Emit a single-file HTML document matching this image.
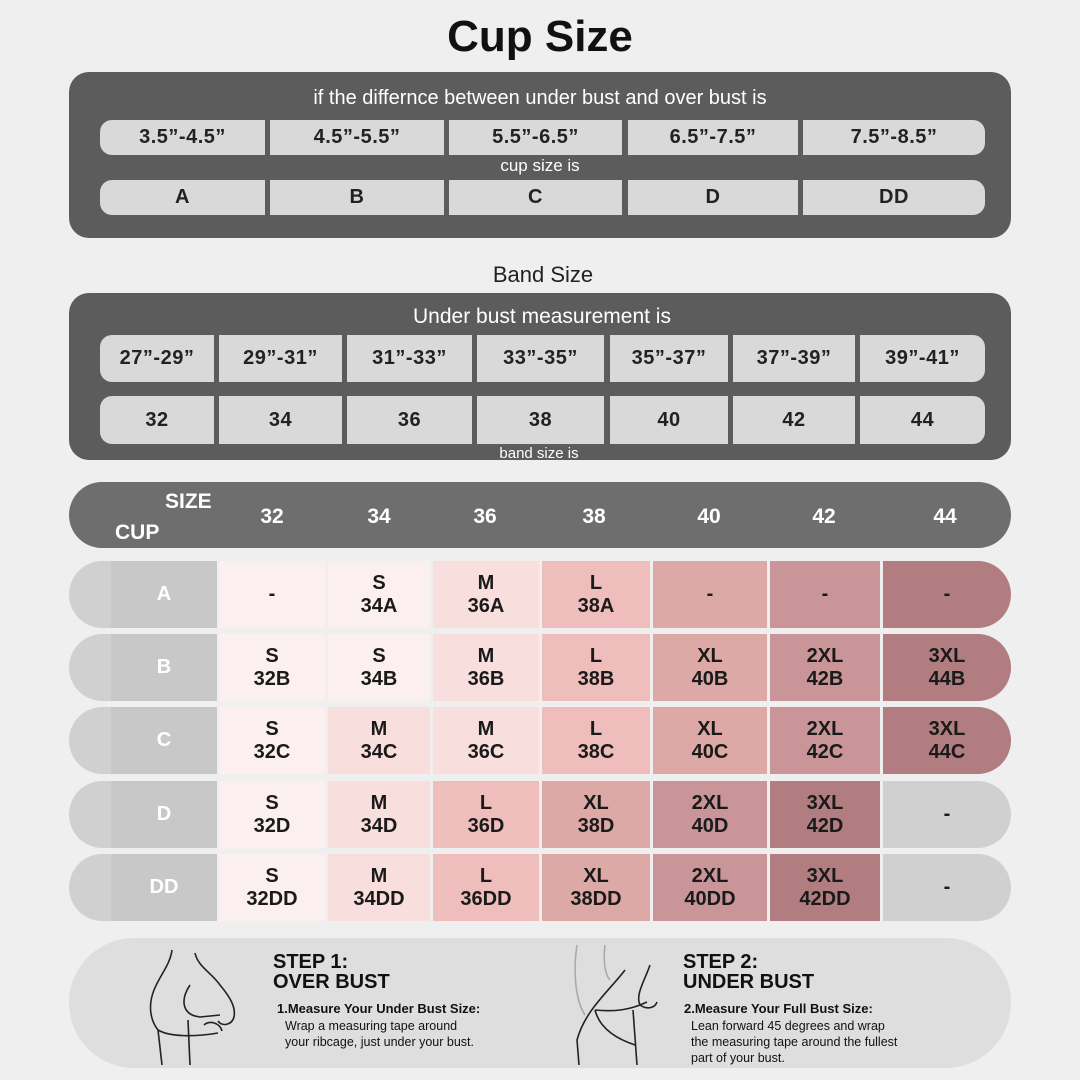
<!DOCTYPE html>
<html><head><meta charset="utf-8"><style>
*{margin:0;padding:0;box-sizing:border-box}
body{width:1080px;height:1080px;background:#efefef;position:relative;overflow:hidden;font-family:"Liberation Sans",Arial,sans-serif}
.a{position:absolute}
.t{position:absolute;text-align:center;white-space:nowrap}
.box{position:absolute;background:#d9d9d9;display:flex;align-items:center;justify-content:center;font-weight:bold;font-size:20px;color:#222;letter-spacing:0.5px}
.cell{position:absolute;display:flex;align-items:center;justify-content:center;text-align:center;font-weight:bold;font-size:20px;line-height:23px;color:#1a1a1a}
.lab{position:absolute;background:#c8c8c8;color:#fff;display:flex;align-items:center;justify-content:center;font-weight:bold;font-size:20px}
</style></head><body>
<div class="t" style="left:0;width:1080px;top:12px;font-size:44px;font-weight:bold;color:#111">Cup Size</div>

<div class="a" style="left:69px;top:72px;width:942px;height:166px;background:#5c5c5c;border-radius:20px"></div>
<div class="t" style="left:69px;width:942px;top:87px;font-size:20px;color:#fff">if the differnce between under bust and over bust is</div>
<div class="box" style="left:100px;top:120px;width:165px;height:35px;border-radius:12px 0 0 12px">3.5”-4.5”</div>
<div class="box" style="left:270px;top:120px;width:174px;height:35px">4.5”-5.5”</div>
<div class="box" style="left:449px;top:120px;width:173px;height:35px">5.5”-6.5”</div>
<div class="box" style="left:628px;top:120px;width:170px;height:35px">6.5”-7.5”</div>
<div class="box" style="left:803px;top:120px;width:182px;height:35px;border-radius:0 12px 12px 0">7.5”-8.5”</div>
<div class="t" style="left:69px;width:942px;top:156px;font-size:17px;color:#fff">cup size is</div>
<div class="box" style="left:100px;top:180px;width:165px;height:35px;border-radius:12px 0 0 12px">A</div>
<div class="box" style="left:270px;top:180px;width:174px;height:35px">B</div>
<div class="box" style="left:449px;top:180px;width:173px;height:35px">C</div>
<div class="box" style="left:628px;top:180px;width:170px;height:35px">D</div>
<div class="box" style="left:803px;top:180px;width:182px;height:35px;border-radius:0 12px 12px 0">DD</div>

<div class="t" style="left:0;width:1086px;top:262px;font-size:22px;color:#222">Band Size</div>
<div class="a" style="left:69px;top:293px;width:942px;height:167px;background:#5c5c5c;border-radius:20px"></div>
<div class="t" style="left:69px;width:946px;top:305px;font-size:21px;color:#fff">Under bust measurement is</div>
<div class="box" style="left:100px;top:335px;width:114px;height:47px;border-radius:12px 0 0 12px">27”-29”</div>
<div class="box" style="left:219px;top:335px;width:123px;height:47px">29”-31”</div>
<div class="box" style="left:347px;top:335px;width:125px;height:47px">31”-33”</div>
<div class="box" style="left:477px;top:335px;width:127px;height:47px">33”-35”</div>
<div class="box" style="left:610px;top:335px;width:118px;height:47px">35”-37”</div>
<div class="box" style="left:733px;top:335px;width:122px;height:47px">37”-39”</div>
<div class="box" style="left:860px;top:335px;width:125px;height:47px;border-radius:0 12px 12px 0">39”-41”</div>
<div class="box" style="left:100px;top:396px;width:114px;height:48px;border-radius:12px 0 0 12px">32</div>
<div class="box" style="left:219px;top:396px;width:123px;height:48px">34</div>
<div class="box" style="left:347px;top:396px;width:125px;height:48px">36</div>
<div class="box" style="left:477px;top:396px;width:127px;height:48px">38</div>
<div class="box" style="left:610px;top:396px;width:118px;height:48px">40</div>
<div class="box" style="left:733px;top:396px;width:122px;height:48px">42</div>
<div class="box" style="left:860px;top:396px;width:125px;height:48px;border-radius:0 12px 12px 0">44</div>
<div class="t" style="left:439px;width:200px;top:445px;font-size:15px;color:#fff">band size is</div>

<div class="a" style="left:69px;top:482px;width:942px;height:66px;background:#6e6e6e;border-radius:33px"></div>
<div class="t" style="left:165px;top:490px;font-size:21px;font-weight:bold;color:#fff">SIZE</div>
<div class="t" style="left:115px;top:521px;font-size:21px;font-weight:bold;color:#fff">CUP</div>
<div class="t" style="left:232px;width:80px;top:505px;font-size:21px;font-weight:bold;color:#fff">32</div>
<div class="t" style="left:339px;width:80px;top:505px;font-size:21px;font-weight:bold;color:#fff">34</div>
<div class="t" style="left:445px;width:80px;top:505px;font-size:21px;font-weight:bold;color:#fff">36</div>
<div class="t" style="left:554px;width:80px;top:505px;font-size:21px;font-weight:bold;color:#fff">38</div>
<div class="t" style="left:669px;width:80px;top:505px;font-size:21px;font-weight:bold;color:#fff">40</div>
<div class="t" style="left:784px;width:80px;top:505px;font-size:21px;font-weight:bold;color:#fff">42</div>
<div class="t" style="left:905px;width:80px;top:505px;font-size:21px;font-weight:bold;color:#fff">44</div>

<div id="rows"></div>
<script>
var C={S:'#fcefef',M:'#f8dedd',L:'#f0bdbd',XL:'#dda9a6','2XL':'#c99598','3XL':'#b27d80',G:'#d0d0d0'};
var xs=[[219,106],[328,102],[433,106],[542,108],[653,114],[770,110],[883,128]];
var ys=[561,634,707,781,854];
var cups=['A','B','C','D','DD'];
var bands=['32','34','36','38','40','42','44'];
var data=[
['S:-','S','M','L','XL:-','2XL:-','3XL:-'],
['S','S','M','L','XL','2XL','3XL'],
['S','M','M','L','XL','2XL','3XL'],
['S','M','L','XL','2XL','3XL','G:-'],
['S','M','L','XL','2XL','3XL','G:-']];
var h='';
for(var r=0;r<5;r++){
 var y=ys[r],ht=67;
 h+='<div class="a" style="left:69px;top:'+y+'px;width:80px;height:'+ht+'px;background:#d0d0d0;border-radius:34px 0 0 34px"></div>';
 h+='<div class="lab" style="left:111px;top:'+y+'px;width:106px;height:'+ht+'px">'+cups[r]+'</div>';
 for(var c=0;c<7;c++){
  var v=data[r][c],col,txt;
  if(v.indexOf(':')>=0){var p=v.split(':');col=C[p[0]];txt='-';}
  else{col=C[v];txt=v+'<br>'+bands[c]+cups[r];}
  var rad=c==6?'border-radius:0 34px 34px 0;':'';
  h+='<div class="cell" style="left:'+xs[c][0]+'px;top:'+y+'px;width:'+xs[c][1]+'px;height:'+ht+'px;background:'+col+';'+rad+'">'+txt+'</div>';
 }
}
document.getElementById('rows').innerHTML=h;
</script>

<div class="a" style="left:69px;top:938px;width:942px;height:130px;background:#dedede;border-radius:65px"></div>
<svg class="a" style="left:140px;top:945px" width="110" height="120" fill="none" stroke="#222" stroke-width="1.6">
<path d="M32 5 C30 20 20 30 14 45 C8 60 10 75 18 85 L22 120"/>
<path d="M55 8 C58 22 72 28 80 40 C90 52 96 62 94 72 C92 80 82 82 78 76"/>
<path d="M50 40 C40 55 42 70 60 72 L80 70"/>
<path d="M18 85 C30 92 55 92 78 88"/>
<path d="M48 75 L50 120"/><path d="M64 80 C70 75 80 78 82 86"/>
</svg>
<div class="t" style="left:273px;top:952px;font-size:20px;font-weight:bold;color:#111;text-align:left;line-height:20px">STEP 1:<br>OVER BUST</div>
<div class="t" style="left:277px;top:1001px;font-size:13px;font-weight:bold;color:#111;text-align:left">1.Measure Your Under Bust Size:</div>
<div class="t" style="left:285px;top:1018px;font-size:12.5px;color:#111;text-align:left;line-height:16px">Wrap a measuring tape around<br>your ribcage, just under your bust.</div>
<svg class="a" style="left:565px;top:940px" width="110" height="125" fill="none" stroke="#222" stroke-width="1.6">
<path d="M12 5 C8 30 10 60 20 75" stroke="#aaa"/><path d="M40 5 C38 20 40 35 45 40" stroke="#aaa"/>
<path d="M60 30 C45 50 20 70 12 100 L14 125"/>
<path d="M85 25 C80 40 70 55 75 65 C82 70 90 68 92 62"/>
<path d="M30 70 C50 72 65 70 82 62"/><path d="M68 70 L72 125"/><path d="M30 70 C35 90 55 100 70 105"/>
</svg>
<div class="t" style="left:683px;top:952px;font-size:20px;font-weight:bold;color:#111;text-align:left;line-height:20px">STEP 2:<br>UNDER BUST</div>
<div class="t" style="left:684px;top:1001px;font-size:13px;font-weight:bold;color:#111;text-align:left">2.Measure Your Full Bust Size:</div>
<div class="t" style="left:691px;top:1018px;font-size:12.5px;color:#111;text-align:left;line-height:16px">Lean forward 45 degrees and wrap<br>the measuring tape around the fullest<br>part of your bust.</div>
</body></html>
